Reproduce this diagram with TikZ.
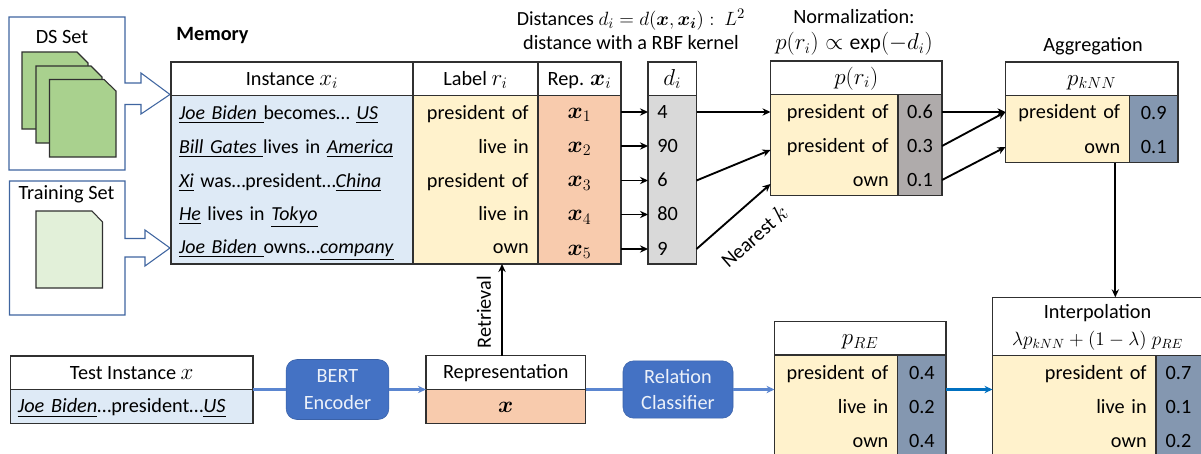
\documentclass[tikz,border=0pt]{standalone}
\usepackage{amsmath,bm}
\usepackage{fontspec}
\setmainfont{Carlito}
\DeclareMathSizes{15.2}{16.8}{12.2}{9.5}
\usetikzlibrary{arrows.meta}
\definecolor{frameblue}{HTML}{3F65A0}
\definecolor{docgreen}{HTML}{A9D18E}
\definecolor{doclight}{HTML}{E2F0D9}
\definecolor{instblue}{HTML}{DEEAF6}
\definecolor{labyellow}{HTML}{FFF2CC}
\definecolor{reporange}{HTML}{F8CBAD}
\definecolor{distgray}{HTML}{D9D9D9}
\definecolor{normgray}{HTML}{AFABAB}
\definecolor{valblue}{HTML}{8497B0}
\definecolor{blockblue}{HTML}{4472C4}
\definecolor{lineblue}{HTML}{5B86D0}
\definecolor{strongblue}{HTML}{0070C0}
\definecolor{edge}{HTML}{303030}
\newcommand{\tabcell}[7][]{%
  \pgfmathsetmacro{\cellw}{(#5-#3)*0.75}%
  \pgfmathsetmacro{\cellh}{(#6-#4)*0.75}%
  \node[cellbase,minimum width=\cellw pt,minimum height=\cellh pt,#1] (#2) at ({(#3+#5)/2},{(#4+#6)/2}) {#7};}
\newcommand{\ul}[1]{\underline{\textit{#1}}}
\tikzset{
  x=0.75pt,y=-0.75pt,
  every node/.style={font=\fontsize{15.2}{18}\selectfont},
  cellbase/.style={inner sep=0pt,outer sep=0pt,text height=10pt,text depth=0.5pt},
  boxed/.style={draw=edge,line width=0.8pt},
  head/.style={boxed,fill=white},
  leftrow/.style={align=left,text width=\cellw pt},
  instrow/.style={leftrow,font=\fontsize{14.9}{18}\selectfont},
  rightrow/.style={align=right,text width=\cellw pt-14pt},
  plainrow/.style={align=left,text width=\cellw pt-14pt},
  conn/.style={draw=black,line width=1.4pt,-{Stealth[length=6pt,width=5.5pt]}},
  blueconn/.style={draw=lineblue,line width=1.6pt,-{Stealth[length=6pt,width=5.5pt]}},
  blueline/.style={draw=lineblue,line width=1.6pt},
  frame/.style={draw=frameblue,line width=0.8pt,fill=white},
  docshape/.style={draw=edge,line width=0.8pt},
  blockbox/.style={draw=blockblue!85!black,fill=blockblue,rounded corners=8pt,text=white!90!blockblue,align=center,font=\fontsize{15.2}{20}\selectfont,inner sep=0pt,outer sep=0pt},
  caption/.style={align=center,inner sep=0pt,font=\fontsize{15.2}{18.5}\selectfont},
}
\begin{document}
\begin{tikzpicture}
\useasboundingbox (0,0) rectangle (1201,453);
% left frames with block arrows
\draw[frame] (125,83) -- (141,83) -- (141,73) -- (170,94.5) -- (141,114) -- (141,104.5) -- (125,104.5) -- (125,170) -- (9,170) -- (9,17) -- (125,17) -- cycle;
\draw[frame] (125,238.5) -- (145,238.5) -- (145,230) -- (170,248) -- (145,266) -- (145,257) -- (125,257) -- (125,315) -- (9.5,315) -- (9.5,181) -- (125,181) -- cycle;
\node (dslabel) at (62,37) {DS Set};
\node (trainlabel) at (66.5,194) {Training Set};
\draw[docshape,fill=docgreen] (22,52) -- (77,52) -- (88,63) -- (88,129) -- (22,129) -- cycle;
\draw[docshape,fill=docgreen] (36,66) -- (91,66) -- (102,77) -- (102,143) -- (36,143) -- cycle;
\draw[docshape,fill=docgreen] (49.5,79.5) -- (104,79.5) -- (116,91) -- (116,157) -- (49.5,157) -- cycle;
\draw[docshape,fill=doclight] (36,211) -- (92,211) -- (102.5,222) -- (102.5,288) -- (36,288) -- cycle;
\node[font=\fontsize{15.2}{18}\selectfont\bfseries] (memlabel) at (212.5,36) {Memory};
% memory table
\tabcell[head]{insthead}{171}{62}{413}{95.5}{Instance $x_i$}
\tabcell[head]{labhead}{413}{62}{538}{95.5}{Label $r_i$}
\tabcell[head]{rephead}{538}{62}{621}{95.5}{Rep. $\bm{x}_i$}
\tabcell[boxed,fill=instblue]{instbody}{171}{95.5}{413}{264}{}
\tabcell[boxed,fill=labyellow]{labbody}{413}{95.5}{538}{264}{}
\tabcell[boxed,fill=reporange]{repbody}{538}{95.5}{621}{264}{}
\tabcell[instrow]{i1}{179}{96}{413}{130}{\ul{Joe Biden\ }becomes… \ul{US}}
\tabcell[instrow]{i2}{179}{130}{413}{164}{\ul{Bill Gates\ }lives in \ul{America}}
\tabcell[instrow]{i3}{179}{164}{413}{198}{\ul{Xi} was…president…\ul{China}}
\tabcell[instrow]{i4}{179}{198}{413}{231}{\ul{He} lives in \ul{Tokyo}}
\tabcell[instrow]{i5}{179}{231}{413}{264}{\ul{Joe Biden\ }owns…\ul{company}}
\tabcell[rightrow]{l1}{413}{96}{538}{130}{president of}
\tabcell[rightrow]{l2}{413}{130}{538}{164}{live in}
\tabcell[rightrow]{l3}{413}{164}{538}{198}{president of}
\tabcell[rightrow]{l4}{413}{198}{538}{231}{live in}
\tabcell[rightrow]{l5}{413}{231}{538}{264}{own}
\tabcell{x1}{538}{95}{621}{129}{$\bm{x}_1$}
\tabcell{x2}{538}{129}{621}{163}{$\bm{x}_2$}
\tabcell{x3}{538}{163.5}{621}{197.5}{$\bm{x}_3$}
\tabcell{x4}{538}{197.5}{621}{231.5}{$\bm{x}_4$}
\tabcell{x5}{538}{232}{621}{266}{$\bm{x}_5$}
% distances
\tabcell[head]{dhead}{648}{62}{696.5}{95.5}{$d_i$}
\tabcell[boxed,fill=distgray]{dbody}{648}{95.5}{696.5}{264}{}
\tabcell[plainrow]{d1}{648}{95}{696.5}{129}{4}
\tabcell[plainrow]{d2}{648}{129}{696.5}{163}{90}
\tabcell[plainrow]{d3}{648}{163.5}{696.5}{197.5}{6}
\tabcell[plainrow]{d4}{648}{197.5}{696.5}{231.5}{80}
\tabcell[plainrow]{d5}{648}{232}{696.5}{266}{9}
\node[caption] (distcap) at (631,29.5) {{\fontsize{15}{18.5}\selectfont Distances $d_i=d(\bm{x},\bm{x_i}):\ L^2$}\\distance with a RBF kernel};
% normalization
\node[caption,font=\fontsize{15.2}{19.5}\selectfont] (normcap) at (854,32.5) {Normalization:\\{\fontsize{16.2}{19.5}\selectfont $p(r_i)\propto\exp(-d_i)$}};
\tabcell[head]{phead}{770.5}{61}{942}{94.5}{$p(r_i)$}
\tabcell[boxed,fill=labyellow]{pbody}{770.5}{94.5}{898}{195.5}{}
\tabcell[boxed,fill=normgray]{pvals}{898}{94.5}{942}{195.5}{}
\tabcell[rightrow]{pl1}{770.5}{95}{898}{129}{president of}
\tabcell[rightrow]{pl2}{770.5}{129}{898}{163}{president of}
\tabcell[rightrow]{pl3}{770.5}{163}{898}{197}{own}
\tabcell{pv1}{898}{95}{942}{129}{0.6}
\tabcell{pv2}{898}{129}{942}{163}{0.3}
\tabcell{pv3}{898}{163}{942}{197}{0.1}
% aggregation
\node[caption] (aggcap) at (1093,46) {Aggregation};
\tabcell[head]{khead}{1005.5}{62}{1178}{95.5}{$p_{kNN}$}
\tabcell[boxed,fill=labyellow]{kbody}{1005.5}{95.5}{1129.5}{162.5}{}
\tabcell[boxed,fill=valblue]{kvals}{1129.5}{95.5}{1178}{162.5}{}
\tabcell[rightrow]{kl1}{1005.5}{95}{1129.5}{129}{president of}
\tabcell[rightrow]{kl2}{1005.5}{130}{1129.5}{164}{own}
\tabcell{kv1}{1129.5}{96}{1178}{130}{0.9}
\tabcell{kv2}{1129.5}{130}{1178}{164}{0.1}
% test instance
\tabcell[head]{testhead}{10.5}{356}{253}{389.5}{Test Instance $x$}
\tabcell[boxed,fill=instblue,leftrow]{testbody}{10.5}{389.5}{253}{423.5}{\hspace{5.5pt}\ul{Joe Biden}…president…\ul{US}}
\node[blockbox,minimum width=77pt,minimum height=45pt] (bert) at (337.5,389.5) {BERT\\Encoder};
\tabcell[head]{rephd}{426}{355.7}{585.5}{389.5}{Representation}
\tabcell[boxed,fill=reporange]{repx}{426}{389.5}{585.5}{423.3}{$\bm{x}$}
\node[blockbox,minimum width=82.5pt,minimum height=43pt] (relcls) at (678,389.5) {Relation\\Classifier};
% p_RE
\tabcell[head]{rehead}{774.5}{321.7}{946}{355}{$p_{RE}$}
\tabcell[boxed,fill=labyellow]{rebody}{774.5}{355}{897.7}{460}{}
\tabcell[boxed,fill=valblue]{revals}{897.7}{355}{946}{460}{}
\tabcell[rightrow]{rl1}{774.5}{356}{897.7}{390}{president of}
\tabcell[rightrow]{rl2}{774.5}{390}{897.7}{424}{live in}
\tabcell[rightrow]{rl3}{774.5}{424}{897.7}{458}{own}
\tabcell{rv1}{897.7}{356}{946}{390}{0.4}
\tabcell{rv2}{897.7}{390}{946}{424}{0.2}
\tabcell{rv3}{897.7}{424}{946}{458}{0.4}
% interpolation
\tabcell[head]{ihead}{992.5}{297.3}{1204}{355.5}{}
\node[caption,font=\fontsize{15.2}{20}\selectfont] (icap) at (1097.5,327.5) {Interpolation\\{\fontsize{14.7}{20}\selectfont $\lambda p_{kNN}+(1-\lambda)\;p_{RE}$}};
\tabcell[boxed,fill=labyellow]{ibody}{992.5}{355.5}{1156}{460}{}
\tabcell[boxed,fill=valblue]{ivals}{1156}{355.5}{1204}{460}{}
\tabcell[rightrow]{il1}{992.5}{356}{1156}{390}{president of}
\tabcell[rightrow]{il2}{992.5}{390}{1156}{424}{live in}
\tabcell[rightrow]{il3}{992.5}{424}{1156}{458}{own}
\tabcell{iv1}{1156}{356}{1201}{390}{0.7}
\tabcell{iv2}{1156}{390}{1201}{424}{0.1}
\tabcell{iv3}{1156}{424}{1201}{458}{0.2}
% connectors
\foreach \n in {1,...,5}{\draw[conn] (x\n.east) -- (d\n.west);}
\coordinate (pin2) at (770.5,150);
\coordinate (pin3) at (770.5,184);
\draw[conn] (d1.east) -- (pl1.west);
\draw[conn] (d3.east) -- (pin2);
\draw[conn] (d5.east) -- (pin3);
\node[rotate=41,inner sep=0pt] (nearest) at (754,236) {Nearest $k$};
\draw[conn] (pv1.east) -- (kl1.west);
\draw[conn] (pv2.east) -- (kl1.west);
\draw[conn] (pv3.east) -- (kl2.west);
\coordinate (kout) at (1115.3,162.5);
\coordinate (iin) at (1115.3,297.3);
\draw[conn] (kout) -- (iin);
\coordinate (retrin) at (502,355.7);
\coordinate (retrout) at (502,264);
\draw[conn] (retrin) -- (retrout);
\node[rotate=90,inner sep=0pt] (retrlabel) at (484,312) {Retrieval};
\draw[blueline] (testbody.north east) -- (bert.west);
\draw[blueconn] (bert.east) -- (repx.north west);
\draw[blueline] (repx.north east) -- (relcls.west);
\draw[blueconn] (relcls.east) -- (rebody.north west |- relcls.east);
\draw[blueconn,draw=strongblue] (revals.north east |- relcls.east) -- (ibody.north west |- relcls.east);
\end{tikzpicture}
\end{document}
